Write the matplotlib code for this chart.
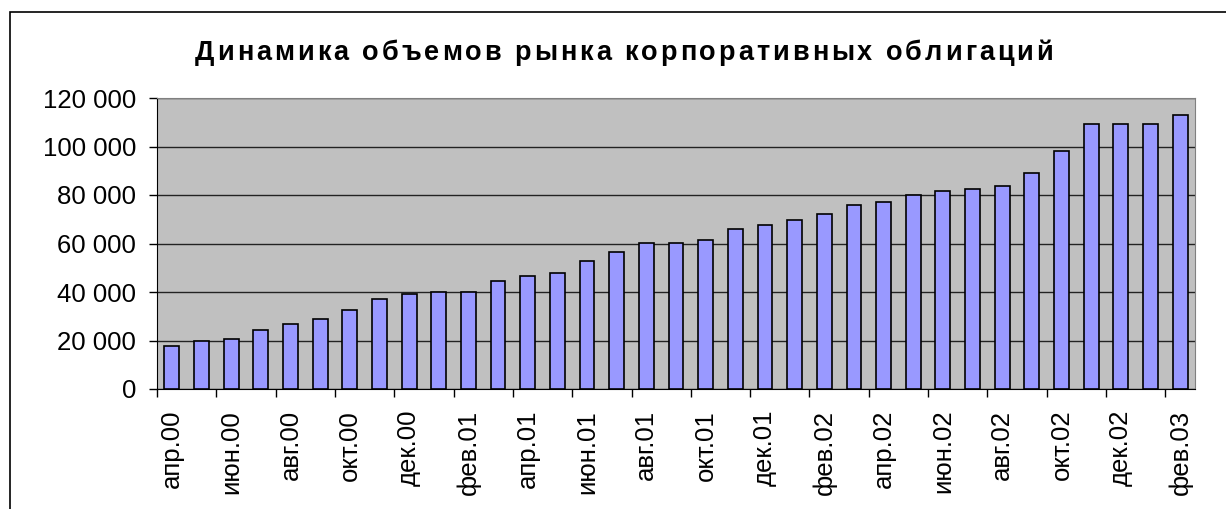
import matplotlib.pyplot as plt
from matplotlib.ticker import FuncFormatter, FixedLocator
from matplotlib.patches import Rectangle

plt.rcParams['font.family'] = ['Liberation Sans', 'DejaVu Sans']

# месяцы апр.00 ... фев.03
months = ['апр.00', 'май.00', 'июн.00', 'июл.00', 'авг.00', 'сен.00', 'окт.00', 'ноя.00', 'дек.00',
          'янв.01', 'фев.01', 'мар.01', 'апр.01', 'май.01', 'июн.01', 'июл.01', 'авг.01', 'сен.01',
          'окт.01', 'ноя.01', 'дек.01', 'янв.02', 'фев.02', 'мар.02', 'апр.02', 'май.02', 'июн.02',
          'июл.02', 'авг.02', 'сен.02', 'окт.02', 'ноя.02', 'дек.02', 'янв.03', 'фев.03']
volumes = [17800, 20000, 20800, 24500, 26800, 29000, 32700, 37100, 39300,
           40000, 40000, 44400, 46800, 47700, 52700, 56400, 60100, 60100,
           61500, 66100, 67600, 69800, 72000, 75700, 77100, 80000, 81500,
           82500, 83700, 89000, 98100, 109100, 109100, 109100, 113000]
title = 'Динамика объемов рынка корпоративных облигаций'

W, H = 1226, 509
fig = plt.figure(figsize=(W / 100, H / 100), dpi=100)
ax = fig.add_axes([157 / W, 1 - 389 / H, (1195 - 157) / W, (389 - 98) / H])

x = range(len(months))
ax.bar(x, volumes, width=0.5, color='#9999FF', edgecolor='black', linewidth=1.2, zorder=3)

ax.set_facecolor('#C0C0C0')
ax.set_xlim(-0.5, len(months) - 0.5)
ax.set_ylim(0, 120000)
ax.set_yticks(range(0, 120001, 20000))
ax.yaxis.set_major_formatter(FuncFormatter(lambda v, p: f'{int(v):,}'.replace(',', ' ')))
ax.grid(axis='y', color='#222222', linewidth=1, zorder=1)

# деления между категориями, подписи через одну
ax.xaxis.set_major_locator(FixedLocator([i - 0.5 for i in range(0, len(months), 2)]))
ax.xaxis.set_minor_locator(FixedLocator(list(range(0, len(months), 2))))
ax.xaxis.set_major_formatter(FuncFormatter(lambda v, p: ''))
ax.set_xticklabels([months[i] for i in range(0, len(months), 2)], minor=True, rotation=90, va='top')
ax.tick_params(axis='x', which='major', length=6, direction='out', width=1)
ax.tick_params(axis='x', which='minor', length=0, pad=15, labelsize=18.5)
ax.tick_params(axis='y', length=6, direction='out', width=1, labelsize=18.5, pad=9)

for s in ['top', 'right']:
    ax.spines[s].set_color('#808080')
for s in ['left', 'bottom']:
    ax.spines[s].set_color('black')

# заголовок с разрядкой букв, как в Excel
renderer = fig.canvas.get_renderer()
tkw = dict(fontsize=19.5, fontweight='bold')

def text_w(s):
    t = fig.text(0, 0, s, **tkw)
    w = t.get_window_extent(renderer).width
    t.remove()
    return w

base = text_w('НН')
adv = [text_w('Н' + c + 'Н') - base for c in title]
x0, x1 = 195, 1053
spacing = (x1 - x0 - sum(adv)) / (len(title) - 1)
px = x0
for c, a in zip(title, adv):
    if c != ' ':
        fig.text(px / W, 1 - 59.5 / H, c, ha='left', va='baseline', **tkw)
    px += a + spacing

# рамка области диаграммы
fig.patches.append(Rectangle((10 / W, -0.1), 1.2, 1 - 12 / H + 0.1, transform=fig.transFigure,
                             fill=False, edgecolor='black', linewidth=1.2))

plt.savefig('out.png', dpi=100)
